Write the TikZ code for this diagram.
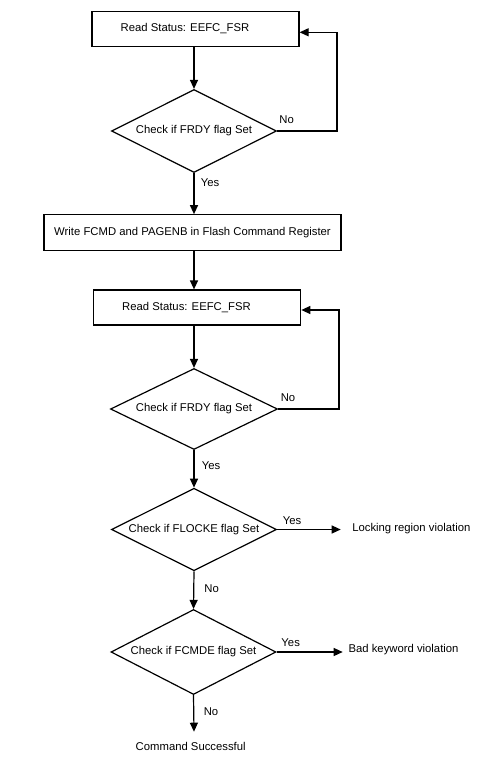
\documentclass[tikz,border=0pt]{standalone}
\usepackage{fontspec}
\setmainfont{Liberation Sans}
\usetikzlibrary{shapes.geometric,arrows.meta}
\begin{document}
\begin{tikzpicture}[x=1pt,y=-1pt,
  font=\fontsize{11.3}{13}\selectfont,
  line width=1.2pt,
  procbox/.style={draw,rectangle,inner sep=0pt,minimum height=34.5pt},
  decision/.style={draw,diamond,aspect=2,inner sep=0pt,minimum width=165pt,minimum height=83pt},
  lbl/.style={inner sep=0pt},
  outtxt/.style={inner sep=0pt,anchor=west},
  arr/.style={-{Triangle[length=9pt,width=8pt]}}]
\useasboundingbox (0,0) rectangle (500,766);
% nodes
\node[procbox,minimum width=207pt] (b1) at (195.5,29) {\hspace*{-21pt}Read Status: EEFC\_FSR};
\node[decision] (d1) at (194,131) {Check if FRDY flag Set};
\node[procbox,minimum width=297pt,minimum height=35.5pt] (b2) at (192.5,232.5) {Write FCMD and PAGENB in Flash Command Register};
\node[procbox,minimum width=207.5pt,minimum height=35pt] (b3) at (197,307.5) {\hspace*{-21pt}Read Status: EEFC\_FSR};
\node[decision,minimum width=167pt,minimum height=81pt] (d2) at (194,409) {Check if FRDY flag Set};
\node[decision,minimum height=82.5pt] (d3) at (194,529.5) {Check if FLOCKE flag Set};
\node[decision,minimum height=85pt] (d4) at (193.5,652) {Check if FCMDE flag Set};
\node[outtxt] (lr) at (351.7,529) {Locking region violation};
\node[outtxt] (bk) at (348,649.3) {Bad keyword violation};
\node[lbl] (cs) at (190.7,746) {Command Successful};
% labels
\node[lbl] (n1) at (286.7,120) {No};
\node[lbl] (y1) at (210,183) {Yes};
\node[lbl] (n2) at (288,398) {No};
\node[lbl] (y2) at (211,466) {Yes};
\node[lbl] (y3) at (292,521) {Yes};
\node[lbl] (n3) at (211.7,589) {No};
\node[lbl] (y4) at (290.7,642.7) {Yes};
\node[lbl] (n4) at (211,711.7) {No};
% coordinates
\coordinate (r1) at (337,32.3);
\coordinate (r2) at (339,310);
\coordinate (e1) at (194,731.7);
\coordinate (a3) at (340.7,0);
\coordinate (a4) at (342.7,0);
% connectors
\draw[arr] (b1.south -| d1.north) -- (d1.north);
\draw[arr] (d1.east) -| (r1) -- (r1 -| b1.east);
\draw[arr] (d1.south) -- (d1.south |- b2.north);
\draw[arr] (b2.south -| d2.north) -- (b3.north -| d2.north);
\draw[arr] (b3.south -| d2.north) -- (d2.north);
\draw[arr] (d2.east) -| (r2) -- (r2 -| b3.east);
\draw[arr] (d2.south) -- (d3.north);
\draw[arr] (d3.east) -- (d3.east -| a3);
\draw[arr] (d3.south) -- (d4.north);
\draw[arr] (d4.east) -- (d4.east -| a4);
\draw[arr] (d4.south) -- (e1);
\end{tikzpicture}
\end{document}
